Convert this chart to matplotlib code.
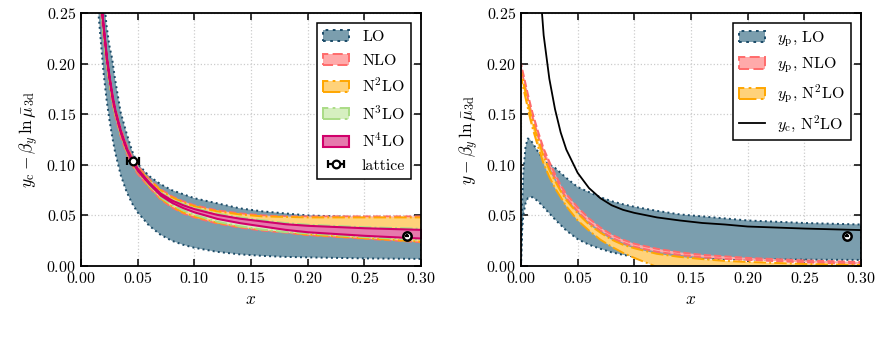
import matplotlib
matplotlib.use("Agg")
import matplotlib.pyplot as plt
from matplotlib.ticker import FuncFormatter, MultipleLocator
import numpy as np

plt.rcParams['mathtext.fontset'] = 'cm'
plt.rcParams['font.family'] = ['cmr10']
plt.rcParams['axes.unicode_minus'] = False
plt.rcParams['axes.formatter.use_mathtext'] = True

# ---------------- left panel: y_c - beta_y ln mu_3d ----------------
x_left = [0.012, 0.015, 0.0175, 0.02, 0.0225, 0.025, 0.0275, 0.03, 0.035, 0.04, 0.045, 0.05,
          0.06, 0.07, 0.08, 0.09, 0.10, 0.12, 0.14, 0.16, 0.18, 0.20, 0.25, 0.30]

lo_hi = [0.45, 0.36, 0.31, 0.268, 0.238, 0.218, 0.205, 0.185, 0.152, 0.132, 0.114, 0.101,
         0.089, 0.081, 0.075, 0.071, 0.067, 0.062, 0.057, 0.054, 0.052, 0.050, 0.048, 0.047]
lo_lo = [0.33, 0.255, 0.222, 0.19, 0.165, 0.145, 0.128, 0.113, 0.090, 0.074, 0.062, 0.053,
         0.040, 0.031, 0.025, 0.021, 0.018, 0.014, 0.0115, 0.010, 0.009, 0.0085, 0.0075, 0.007]

nlo_hi = [0.384, 0.304, 0.264, 0.236, 0.209, 0.189, 0.171, 0.157, 0.136, 0.120, 0.108, 0.099,
          0.086, 0.076, 0.069, 0.064, 0.060, 0.055, 0.052, 0.050, 0.049, 0.049, 0.049, 0.049]
nlo_lo = [0.376, 0.296, 0.256, 0.228, 0.201, 0.181, 0.163, 0.149, 0.128, 0.112, 0.100, 0.091,
          0.078, 0.066, 0.058, 0.052, 0.048, 0.042, 0.038, 0.035, 0.033, 0.0305, 0.027, 0.0235]

n2lo_hi = [0.382, 0.302, 0.262, 0.234, 0.207, 0.187, 0.169, 0.155, 0.134, 0.118, 0.106, 0.097,
           0.085, 0.075, 0.068, 0.063, 0.059, 0.054, 0.051, 0.049, 0.0485, 0.048, 0.048, 0.048]
n2lo_lo = [0.378, 0.298, 0.258, 0.230, 0.203, 0.183, 0.165, 0.151, 0.130, 0.114, 0.102, 0.093,
           0.079, 0.067, 0.059, 0.053, 0.049, 0.043, 0.039, 0.036, 0.034, 0.031, 0.0275, 0.024]

n3lo_hi = [0.3815, 0.3015, 0.2615, 0.2335, 0.2065, 0.1865, 0.1685, 0.1545, 0.1335, 0.1175, 0.1055, 0.0965,
           0.0836, 0.0728, 0.066, 0.0612, 0.0574, 0.0518, 0.048, 0.0453, 0.0425, 0.0408, 0.0383, 0.0368]
n3lo_lo = [0.3785, 0.2985, 0.2585, 0.2305, 0.2035, 0.1835, 0.1655, 0.1515, 0.1305, 0.1145, 0.1025, 0.0935,
           0.080, 0.068, 0.0605, 0.055, 0.0505, 0.0438, 0.0393, 0.036, 0.0335, 0.0322, 0.0285, 0.0258]

n4lo_hi = [0.381, 0.301, 0.261, 0.233, 0.206, 0.186, 0.168, 0.154, 0.133, 0.117, 0.105, 0.096,
           0.0828, 0.0720, 0.0652, 0.0604, 0.0566, 0.0510, 0.0472, 0.0445, 0.0418, 0.0402, 0.0378, 0.0362]
n4lo_lo = [0.379, 0.299, 0.259, 0.231, 0.204, 0.184, 0.166, 0.152, 0.131, 0.115, 0.103, 0.094,
           0.0812, 0.0700, 0.0628, 0.0576, 0.0534, 0.0470, 0.0428, 0.0395, 0.0362, 0.0338, 0.0303, 0.0276]

# lattice data points (x, y, x-error, y-error)
lat_x = [0.046, 0.2875]
lat_y = [0.104, 0.030]
lat_xerr = [0.005, 0.002]
lat_yerr = [0.0, 0.0015]

# ---------------- right panel: y - beta_y ln mu_3d ----------------
x_right = [0.0, 0.001, 0.002, 0.004, 0.006, 0.008, 0.01, 0.015, 0.02, 0.025, 0.03, 0.035, 0.04,
           0.05, 0.06, 0.07, 0.08, 0.09, 0.10, 0.12, 0.14, 0.16, 0.18, 0.20, 0.25, 0.30]

yp_lo_hi = [0.0, 0.06, 0.092, 0.118, 0.126, 0.125, 0.122, 0.113, 0.105, 0.100, 0.097, 0.092, 0.087,
            0.078, 0.073, 0.068, 0.064, 0.061, 0.0585, 0.0545, 0.051, 0.049, 0.047, 0.045, 0.0425, 0.041]
yp_lo_lo = [0.0, 0.035, 0.05, 0.062, 0.067, 0.068, 0.068, 0.064, 0.058, 0.052, 0.046, 0.0405, 0.035,
            0.0265, 0.021, 0.017, 0.0135, 0.011, 0.0092, 0.0078, 0.0072, 0.0068, 0.0066, 0.0065, 0.0063, 0.006]

yp_nlo_hi = [0.200, 0.195, 0.190, 0.180, 0.170, 0.161, 0.152, 0.133, 0.116, 0.103, 0.091, 0.080, 0.071,
             0.058, 0.047, 0.038, 0.031, 0.026, 0.022, 0.017, 0.0135, 0.011, 0.0095, 0.008, 0.0055, 0.004]
yp_nlo_lo = [0.195, 0.190, 0.185, 0.175, 0.165, 0.156, 0.147, 0.128, 0.111, 0.098, 0.087, 0.076, 0.067,
             0.054, 0.043, 0.035, 0.028, 0.023, 0.019, 0.014, 0.011, 0.0085, 0.007, 0.006, 0.0035, 0.002]

yp_n2lo_hi = [0.192, 0.187, 0.182, 0.172, 0.162, 0.153, 0.144, 0.125, 0.108, 0.095, 0.084, 0.074, 0.065,
              0.052, 0.041, 0.033, 0.026, 0.021, 0.0175, 0.012, 0.009, 0.0068, 0.005, 0.004, 0.002, 0.001]
yp_n2lo_lo = [0.186, 0.181, 0.176, 0.166, 0.156, 0.146, 0.137, 0.118, 0.101, 0.088, 0.077, 0.068, 0.059,
              0.045, 0.035, 0.026, 0.019, 0.013, 0.008, -0.001, -0.007, -0.011, -0.014, -0.016, -0.019, -0.021]

x_yc = [0.012, 0.015, 0.0175, 0.02, 0.025, 0.03, 0.035, 0.04, 0.05, 0.06, 0.07, 0.08, 0.09, 0.10,
        0.12, 0.14, 0.16, 0.18, 0.20, 0.25, 0.30]
yc_n2lo = [0.42, 0.31, 0.265, 0.228, 0.185, 0.155, 0.132, 0.115, 0.092, 0.077, 0.067, 0.060, 0.0555, 0.0525,
           0.048, 0.045, 0.0425, 0.041, 0.039, 0.037, 0.0355]

# band styles: (face, edge, linestyle)
sty_lo = ('#7b9eae', '#1b4b68', ':')
sty_nlo = ('#ffaaaa', '#ff6b6b', '--')
sty_n2lo = ('#ffd27a', '#ffa600', '-.')
sty_n3lo = ('#d6efc0', '#aadc86', '-.')
sty_n4lo = ('#e67aad', '#d1006b', '-')


def band(ax, x, lo, hi, sty, label, lw=1.4):
    fc, ec, ls = sty
    ax.fill_between(x, lo, hi, facecolor=fc, edgecolor=ec, linestyle=ls, linewidth=lw, label=label)


def lattice_point(ax, x, y, xe, ye):
    # circle first, error cross drawn over it
    ax.plot([x], [y], 'o', ms=6, mfc='white', mec='black', mew=1.8, zorder=5)
    ax.errorbar([x], [y], xerr=[xe], yerr=[ye], fmt='none', ecolor='black',
                elinewidth=1.6, capsize=0, zorder=6)


def style_axes(ax, ylabel):
    ax.set_xlim(0, 0.3)
    ax.set_ylim(0, 0.25)
    ax.xaxis.set_major_locator(MultipleLocator(0.05))
    ax.yaxis.set_major_locator(MultipleLocator(0.05))
    fmt = FuncFormatter(lambda v, p: f'${v:.2f}$')
    ax.xaxis.set_major_formatter(fmt)
    ax.yaxis.set_major_formatter(fmt)
    ax.tick_params(direction='in', top=True, right=True, length=5, width=1.1, labelsize=11.5)
    ax.grid(True, linestyle=':', color='#cccccc', linewidth=0.9)
    ax.set_axisbelow(True)
    for s in ax.spines.values():
        s.set_linewidth(1.3)
    ax.set_xlabel('$x$', fontsize=12.5)
    ax.set_ylabel(ylabel, fontsize=12.5)


fig = plt.figure(figsize=(8.85, 3.58), dpi=100)
ax1 = fig.add_axes([0.0915, 0.257, 0.3842, 0.7067])
ax2 = fig.add_axes([0.5887, 0.257, 0.3842, 0.7067])

# left panel
band(ax1, x_left, lo_lo, lo_hi, sty_lo, r'$\mathrm{LO}$')
band(ax1, x_left, nlo_lo, nlo_hi, sty_nlo, r'$\mathrm{NLO}$')
band(ax1, x_left, n2lo_lo, n2lo_hi, sty_n2lo, r'$\mathrm{N^2LO}$')
band(ax1, x_left, n3lo_lo, n3lo_hi, sty_n3lo, r'$\mathrm{N^3LO}$')
band(ax1, x_left, n4lo_lo, n4lo_hi, sty_n4lo, r'$\mathrm{N^4LO}$', lw=1.5)
ax1.errorbar(lat_x[:1], lat_y[:1], xerr=lat_xerr[:1], fmt='o', color='black', ms=5.5,
             mfc='white', mec='black', mew=1.6, elinewidth=1.6, capsize=3, capthick=1.6,
             label='lattice', zorder=5)
lattice_point(ax1, lat_x[1], lat_y[1], lat_xerr[1], lat_yerr[1])
style_axes(ax1, r'$y_\mathrm{c} - \beta_y\,\ln\bar{\mu}_\mathrm{3d}$')
ax1.legend(loc='upper right', fontsize=11.5, fancybox=False, edgecolor='black', framealpha=1,
           handlelength=1.6, borderaxespad=0.6, labelspacing=0.55).get_frame().set_linewidth(1.1)

# right panel
band(ax2, x_right, yp_lo_lo, yp_lo_hi, sty_lo, r'$y_\mathrm{p}$, $\mathrm{LO}$')
band(ax2, x_right, yp_nlo_lo, yp_nlo_hi, sty_nlo, r'$y_\mathrm{p}$, $\mathrm{NLO}$')
band(ax2, x_right, yp_n2lo_lo, yp_n2lo_hi, sty_n2lo, r'$y_\mathrm{p}$, $\mathrm{N^2LO}$')
ax2.plot(x_yc, yc_n2lo, color='black', lw=1.3, label=r'$y_\mathrm{c}$, $\mathrm{N^2LO}$')
lattice_point(ax2, lat_x[1], lat_y[1], lat_xerr[1], lat_yerr[1])
style_axes(ax2, r'$y - \beta_y\,\ln\bar{\mu}_\mathrm{3d}$')
ax2.legend(loc='upper right', fontsize=11.5, fancybox=False, edgecolor='black', framealpha=1,
           handlelength=1.6, borderaxespad=0.6, labelspacing=0.45).get_frame().set_linewidth(1.1)

fig.savefig('out.png', dpi=100)
